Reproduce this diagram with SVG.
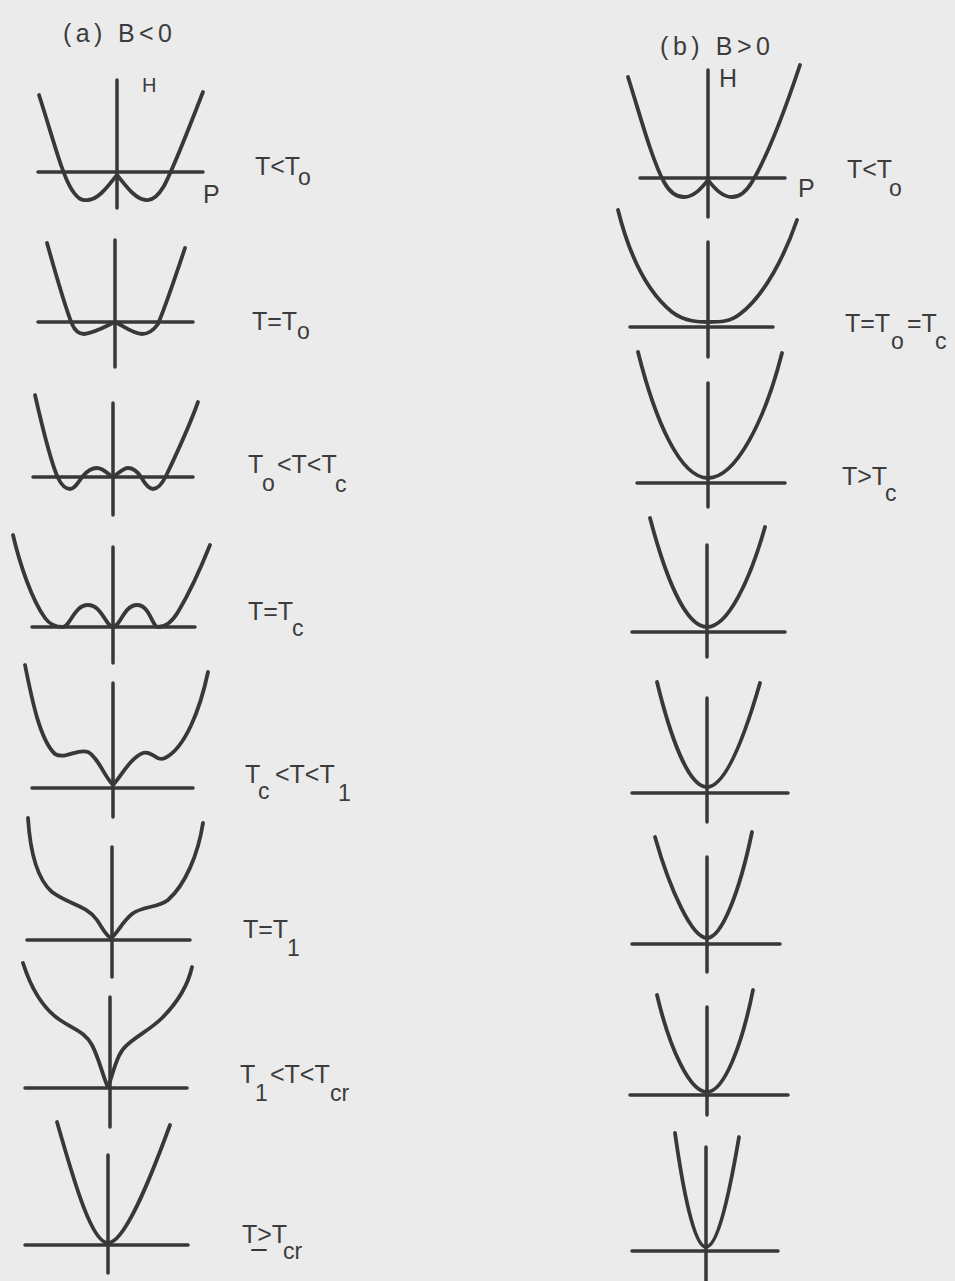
<svg xmlns="http://www.w3.org/2000/svg" width="955" height="1281" viewBox="0 0 955 1281">
<style>
.ax{stroke:#383838;stroke-width:3.5;fill:none;stroke-linecap:round}
.cv{stroke:#383838;stroke-width:3.8;fill:none;stroke-linecap:round;stroke-linejoin:round}
.t{font-family:"Liberation Sans",Arial,sans-serif;font-size:25px;fill:#3c3c3c}
.s{font-family:"Liberation Sans",Arial,sans-serif;font-size:23px;fill:#3c3c3c}
.h{font-family:"Liberation Sans",Arial,sans-serif;font-size:20px;fill:#3c3c3c}
</style>
<rect width="955" height="1281" fill="#ebebeb"/>
<g id="titles">
<text class="t" x="63" y="42" textLength="109" lengthAdjust="spacing">(a) B&lt;0</text>
<text class="t" x="660" y="55" textLength="110" lengthAdjust="spacing">(b) B&gt;0</text>
</g>
<g id="a1">
<path class="ax" d="M117,80V208M38,172H203"/>
<path class="cv" d="M39,95 C52,135 62,175 72,190 C78,199 82,201 88,200 C100,199 110,183 117,175 C124,183 134,199 146,200 C152,201 158,196 164,186 C175,165 190,125 203,92"/>
<text class="h" x="142" y="92">H</text>
<text class="t" x="203" y="203">P</text>
<text class="t" x="255" y="175">T&lt;T</text><text class="s" x="298" y="185">o</text>
</g>
<g id="a2">
<path class="ax" d="M115,240V367M38,322H193"/>
<path class="cv" d="M47,243 C56,275 66,310 72,324 C75,331 79,334 84,334 C95,333 108,325 115,322 C122,325 133,334 142,334 C148,334 153,331 158,324 C166,305 176,275 185,248"/>
<text class="t" x="252" y="330">T=T</text><text class="s" x="297" y="339">o</text>
</g>
<g id="a3">
<path class="ax" d="M113,403V515M33,477H193"/>
<path class="cv" d="M35,395 C43,430 52,465 58,478 C62,486 66,489 70,489 C75,489 78,482 83,476 C88,470 92,468 97,468 C103,468 108,474 113,477 C118,474 123,468 128,468 C133,468 137,471 141,477 C145,484 149,489 153,489 C158,489 162,484 166,476 C176,455 188,430 198,402"/>
<text class="t" x="248" y="473">T</text><text class="s" x="262" y="491">o</text><text class="t" x="277" y="473">&lt;T&lt;T</text><text class="s" x="335" y="492">c</text>
</g>
<g id="a4">
<path class="ax" d="M113,547V663M32,627H195"/>
<path class="cv" d="M13,535 C20,565 32,600 45,618 C50,625 56,627 63,627 C70,627 74,605 88,605 C102,605 106,627 113,627 C120,627 124,605 137,605 C150,605 152,627 158,627 C166,627 172,622 178,612 C190,592 202,565 210,545"/>
<text class="t" x="248" y="620">T=T</text><text class="s" x="292" y="636">c</text>
</g>
<g id="a5">
<path class="ax" d="M113,683V817M32,788H193"/>
<path class="cv" d="M25,665 C32,700 40,740 55,754 C65,760 78,748 88,752 C98,757 104,776 113,785 C120,778 130,758 143,753 C152,750 156,762 165,758 C185,748 200,710 208,672"/>
<text class="t" x="245" y="783">T</text><text class="s" x="258" y="799">c</text><text class="t" x="275" y="783">&lt;T&lt;T</text><text class="s" x="338" y="801">1</text>
</g>
<g id="a6">
<path class="ax" d="M112,847V977M27,940H190"/>
<path class="cv" d="M28,818 C30,850 36,878 52,892 C68,904 86,905 97,920 C103,929 106,936 111,938 C117,934 122,922 132,914 C142,906 158,908 168,900 C185,885 198,855 203,823"/>
<text class="t" x="243" y="938">T=T</text><text class="s" x="287" y="956">1</text>
</g>
<g id="a7">
<path class="ax" d="M110,997V1127M25,1088H187"/>
<path class="cv" d="M23,963 C30,985 42,1008 60,1020 C75,1030 85,1032 92,1045 C99,1058 104,1080 108,1087 C113,1075 116,1055 126,1046 C136,1036 150,1030 162,1018 C178,1002 188,985 192,967"/>
<text class="t" x="240" y="1083">T</text><text class="s" x="255" y="1101">1</text><text class="t" x="270" y="1083">&lt;T&lt;T</text><text class="s" x="330" y="1101">cr</text>
</g>
<g id="a8">
<path class="ax" d="M108,1155V1273M25,1245H188"/>
<path class="cv" d="M57,1122 C75,1185 92,1243 108,1243 C124,1243 148,1185 170,1125"/>
<text class="t" x="242" y="1243">T&gt;T</text><path class="ax" d="M252,1250H266" style="stroke-width:2"/><text class="s" x="283" y="1259">cr</text>
</g>
<g id="b1">
<path class="ax" d="M708,70V217M640,178H785"/>
<path class="cv" d="M628,77 C640,115 652,160 664,182 C670,193 676,197 684,197 C695,197 703,186 708,180 C713,186 721,197 732,197 C740,197 746,192 752,182 C768,155 785,110 800,65"/>
<text class="t" x="719" y="87">H</text>
<text class="t" x="798" y="197">P</text>
<text class="t" x="847" y="178">T&lt;T</text><text class="s" x="889" y="196">o</text>
</g>
<g id="b2">
<path class="ax" d="M708,242V357M630,327H773"/>
<path class="cv" d="M618,210 C628,250 645,290 672,312 C685,322 700,322 708,322 C720,322 730,322 740,314 C765,295 785,255 797,220"/>
<text class="t" x="845" y="332">T=T</text><text class="s" x="891" y="349">o</text><text class="t" x="907" y="332">=T</text><text class="s" x="935" y="349">c</text>
</g>
<g id="b3">
<path class="ax" d="M708,383V507M637,483H785"/>
<path class="cv" d="M638,352 C655,420 680,478 708,478 C736,478 765,420 782,353"/>
<text class="t" x="842" y="485">T&gt;T</text><text class="s" x="885" y="501">c</text>
</g>
<g id="b4">
<path class="ax" d="M707,545V657M632,632H785"/>
<path class="cv" d="M650,518 C665,575 685,627 707,627 C728,627 750,580 765,527"/>
</g>
<g id="b5">
<path class="ax" d="M707,698V822M632,793H788"/>
<path class="cv" d="M657,682 C670,735 688,787 707,787 C726,787 745,735 760,683"/>
</g>
<g id="b6">
<path class="ax" d="M707,857V972M632,944H780"/>
<path class="cv" d="M655,837 C670,890 692,938 707,938 C722,938 740,890 752,832"/>
</g>
<g id="b7">
<path class="ax" d="M707,1007V1115M630,1095H788"/>
<path class="cv" d="M657,995 C670,1050 690,1092 707,1092 C724,1092 742,1045 753,990"/>
</g>
<g id="b8">
<path class="ax" d="M706,1147V1281M632,1251H778"/>
<path class="cv" d="M675,1133 C683,1190 694,1247 706,1247 C718,1247 730,1190 739,1137"/>
</g>
<g id="connectors"/>
</svg>
